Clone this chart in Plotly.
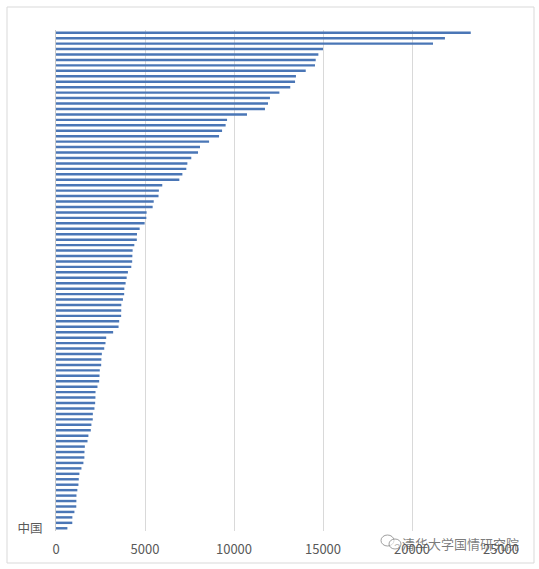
import plotly.graph_objects as go

# values, top bar first (sorted descending), China last
values = [
    23300, 21850, 21180, 15000, 14740, 14590, 14550, 14030, 13480, 13430,
    13160, 12550, 12020, 11910, 11740, 10730, 9610, 9530, 9330, 9160,
    8600, 8090, 7980, 7600, 7380, 7320, 7100, 6930, 5970, 5780,
    5760, 5490, 5430, 5090, 5075, 4980, 4700, 4550, 4540, 4400,
    4305, 4290, 4280, 4230, 4040, 3970, 3910, 3840, 3830, 3760,
    3670, 3665, 3660, 3550, 3515, 3210, 2820, 2780, 2710, 2575,
    2550, 2538, 2460, 2445, 2425, 2330, 2220, 2215, 2200, 2160,
    2070, 2065, 1990, 1955, 1820, 1770, 1620, 1600, 1595, 1540,
    1430, 1315, 1280, 1260, 1200, 1150, 1145, 1140, 1035, 920,
    915, 640,
]
positions = list(range(len(values)))
china_label = "中国"
x_ticks = [0, 5000, 10000, 15000, 20000, 25000]
x_ticktext = ["0", "5000", "10000", "15000", "20000", "25000"]
watermark = "清华大学国情研究院"

W, H = 539, 569
ML, MR, MT, MB = 56, 38, 30, 38
PW, PH = W - ML - MR, H - MT - MB


def px(x):
    return (x - ML) / PW


def py(y):
    return (H - MB - y) / PH


fig = go.Figure()
fig.add_trace(go.Bar(
    x=values,
    y=positions,
    orientation="h",
    marker=dict(color="#4A76B6", line=dict(width=0)),
    hoverinfo="x",
))

fig.update_layout(
    width=W, height=H,
    margin=dict(l=ML, r=MR, t=MT, b=MB),
    paper_bgcolor="white",
    plot_bgcolor="white",
    bargap=0.55,
    showlegend=False,
    font=dict(family="Noto Sans CJK SC", size=12.5, color="#595959"),
)

fig.update_xaxes(
    range=[0, 25000],
    tickvals=x_ticks,
    ticktext=x_ticktext,
    showgrid=True,
    gridcolor="#D9D9D9",
    gridwidth=1,
    zeroline=False,
    showline=False,
    ticks="",
    ticklabelstandoff=9,
    tickfont=dict(size=13, color="#595959"),
)

fig.update_yaxes(
    range=[len(values) - 0.5, -0.5],
    tickvals=[positions[-1]],
    ticktext=[china_label],
    showgrid=False,
    zeroline=False,
    showline=True,
    linecolor="#C8C8C8",
    linewidth=1,
    ticks="",
    ticklabelstandoff=10,
    tickfont=dict(size=12.5, color="#595959"),
)

# outer chart frame
fig.add_shape(
    type="rect", xref="paper", yref="paper",
    x0=px(7), x1=px(534), y0=py(563), y1=py(7),
    line=dict(color="#D9D9D9", width=1),
    fillcolor="rgba(0,0,0,0)",
    layer="below",
)

# watermark icon (two chat bubbles) and text
fig.add_shape(
    type="circle", xref="paper", yref="paper",
    x0=px(381), x1=px(394), y0=py(546), y1=py(535),
    line=dict(color="rgba(120,120,120,0.7)", width=1),
    fillcolor="rgba(255,255,255,0.6)",
)
fig.add_shape(
    type="circle", xref="paper", yref="paper",
    x0=px(389), x1=px(401), y0=py(549), y1=py(539),
    line=dict(color="rgba(120,120,120,0.7)", width=1),
    fillcolor="rgba(255,255,255,0.6)",
)
fig.add_annotation(
    text=watermark,
    xref="paper", yref="paper",
    x=px(460), y=py(543),
    xanchor="center", yanchor="middle",
    showarrow=False,
    font=dict(family="Noto Sans CJK SC", size=13, color="rgba(80,80,80,0.75)"),
)

fig.write_html(
    "out.html",
    config={"displayModeBar": False},
    post_script="document.body.style.margin='0px';",
)
